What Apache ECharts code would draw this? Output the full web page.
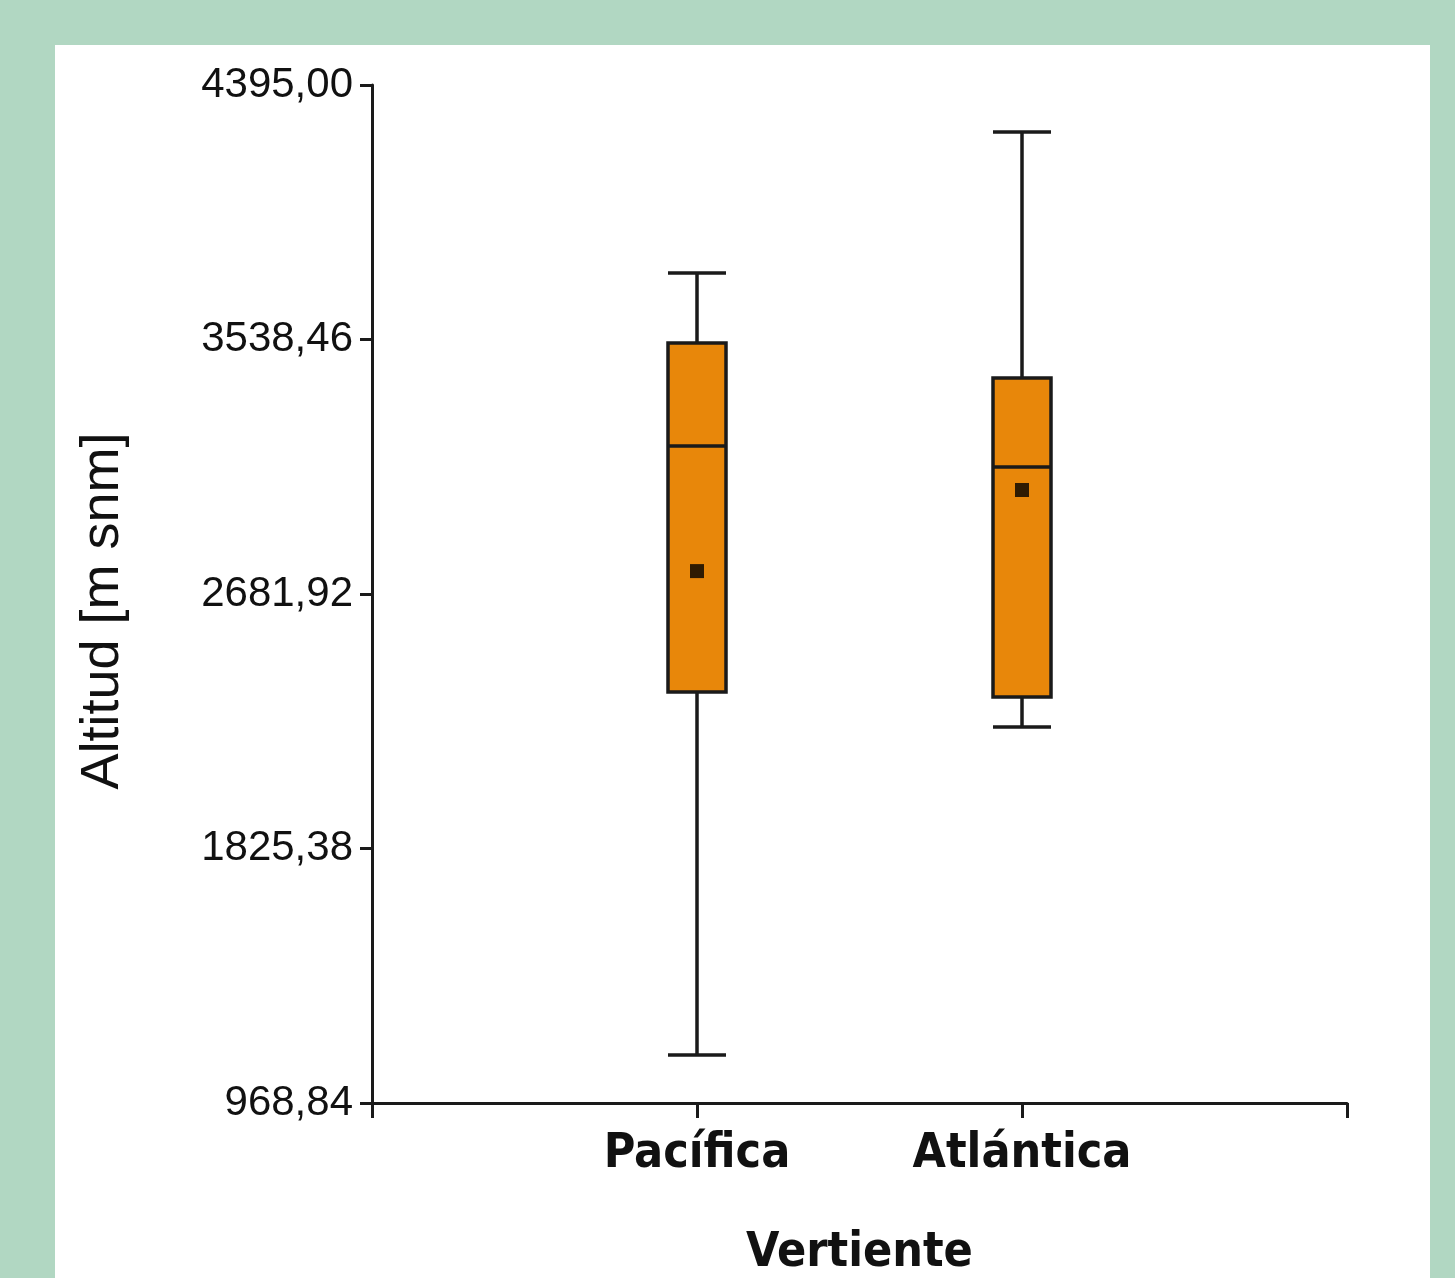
<!DOCTYPE html>
<html>
<head>
<meta charset="utf-8">
<script src="https://cdn.jsdelivr.net/npm/echarts@6/dist/echarts.min.js"></script>
<style>
  html, body { margin: 0; padding: 0; background: #b1d7c2; }
  #chart { width: 1455px; height: 1278px; }
</style>
</head>
<body>
<div id="chart"></div>
<script>
// categorias (con huecos a los lados para dejar el espacio del eje)
const categories = ['', 'Pacífica', 'Atlántica', ''];
// [min, Q1, mediana, Q3, max] por vertiente
const pacifica = [1130, 2352, 3180, 3527, 3762];
const atlantica = [2234, 2335, 3109, 3409, 4237];
// medias
const means = [2759, 3032];
// ticks del eje Y
const yTicks = [968.84, 1825.38, 2681.92, 3538.46, 4395.00];

const chart = echarts.init(document.getElementById('chart'));

const fmt = v => v.toFixed(2).replace('.', ',');
const narrow = 'Liberation Sans Narrow, DejaVu Sans Condensed, sans-serif';

const option = {
  backgroundColor: '#b1d7c2',
  animation: false,
  graphic: [{
    type: 'rect',
    z: -10,
    shape: { x: 55, y: 45, width: 1375, height: 1260 },
    style: { fill: '#ffffff' }
  }],
  grid: { left: 372, top: 85, right: 108, bottom: 175, outerBoundsMode: 'none', containLabel: false },
  xAxis: {
    type: 'category',
    data: categories,
    boundaryGap: false,
    name: 'Vertiente',
    nameLocation: 'middle',
    nameGap: 127,
    nameTextStyle: {
      fontFamily: narrow,
      fontWeight: 'bold', fontSize: 48, color: '#111',
      verticalAlign: 'top'
    },
    axisLine: { lineStyle: { color: '#1a1a1a', width: 3 } },
    axisTick: { interval: 0, length: 15, lineStyle: { color: '#1a1a1a', width: 3 } },
    axisLabel: {
      interval: 0,
      hideOverlap: false,
      margin: 28,
      fontFamily: narrow,
      fontWeight: 'bold', fontSize: 48, color: '#111'
    },
    splitLine: { show: false }
  },
  yAxis: {
    type: 'value',
    min: yTicks[0],
    max: yTicks[yTicks.length - 1],
    name: 'Altitud [m snm]',
    nameLocation: 'middle',
    nameGap: 242,
    nameTextStyle: {
      fontFamily: 'Liberation Sans, Arial, sans-serif',
      fontSize: 54, color: '#111',
      padding: [0, 34, 0, 0]
    },
    axisLine: { show: true, lineStyle: { color: '#1a1a1a', width: 3 } },
    axisTick: {
      show: true, length: 12, customValues: yTicks,
      lineStyle: { color: '#1a1a1a', width: 3 }
    },
    axisLabel: {
      customValues: yTicks,
      margin: 19,
      formatter: fmt,
      fontFamily: 'Liberation Sans, Arial, sans-serif',
      fontSize: 42, color: '#111'
    },
    splitLine: { show: false }
  },
  series: [
    {
      type: 'boxplot',
      boxWidth: [58, 58],
      encode: { x: 0, y: [1, 2, 3, 4, 5] },
      data: [
        [1].concat(pacifica),
        [2].concat(atlantica)
      ],
      itemStyle: { color: '#e8870a', borderColor: '#1a1a1a', borderWidth: 3.5 }
    },
    {
      type: 'scatter',
      symbol: 'rect',
      symbolSize: 14,
      z: 5,
      itemStyle: { color: '#000' },
      data: means.map((m, i) => [i + 1, m])
    }
  ]
};

chart.setOption(option);
</script>
</body>
</html>
